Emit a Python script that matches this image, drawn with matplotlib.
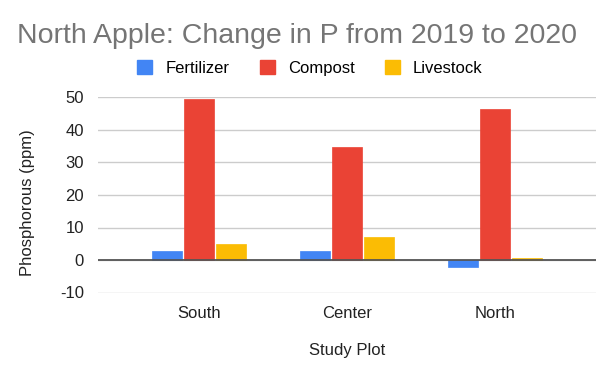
import matplotlib.pyplot as plt
import numpy as np

plots = ['South', 'Center', 'North']
series = ['Fertilizer', 'Compost', 'Livestock']
fertilizer = [2.8, 2.8, -2.1]
compost = [49.6, 34.9, 46.5]
livestock = [4.9, 7.2, 0.5]
colors = ['#4285F4', '#EA4335', '#FBBC04']

plt.rcParams['font.family'] = ['Liberation Sans', 'DejaVu Sans']
plt.rcParams['axes.unicode_minus'] = False

fig = plt.figure(figsize=(6.14, 3.79), dpi=100)
ax = fig.add_axes([98 / 614, 1 - 292.5 / 379, 498 / 614, 195 / 379])

x = np.arange(len(plots))
w = 0.215
for i, (name, vals) in enumerate(zip(series, [fertilizer, compost, livestock])):
    ax.bar(x + (i - 1) * w, vals, width=w * 0.94, color=colors[i], label=name,
           zorder=3, edgecolor=colors[i], linewidth=0.5)

ax.set_xlim(-0.68, 2.68)
ax.set_ylim(-10, 50)
ax.set_yticks([-10, 0, 10, 20, 30, 40, 50])
ax.grid(axis='y', color='#cccccc', linewidth=1, zorder=0)
ax.axhline(0, color='#555555', linewidth=1.3, zorder=4)
for s in ax.spines.values():
    s.set_visible(False)
ax.tick_params(length=0, labelsize=12, colors='#222222', pad=10)
ax.tick_params(axis='x', pad=10)
ax.set_xticks(x)
ax.set_xticklabels(plots)

ax.set_ylabel('Phosphorous (ppm)', fontsize=12, color='#222222', va='center')
ax.yaxis.set_label_coords((28 - 98) / 498, (292.5 - 203) / 195)
ax.set_xlabel('Study Plot', fontsize=12, color='#222222', va='center')
ax.xaxis.set_label_coords(0.5, (292.5 - 350) / 195)

fig.text(17 / 614, 1 - 43 / 379, 'North Apple: Change in P from 2019 to 2020',
         fontsize=20.5, color='#757575', ha='left', va='baseline')

handles = [plt.Rectangle((0, 0), 1, 1, color=c) for c in colors]
fig.legend(handles, series, loc='center', bbox_to_anchor=(310 / 614, 1 - 68 / 379),
           ncol=3, frameon=False, fontsize=12, handlelength=0.9, handleheight=0.9,
           columnspacing=1.8, handletextpad=0.8)

fig.savefig('out.png', dpi=100)
